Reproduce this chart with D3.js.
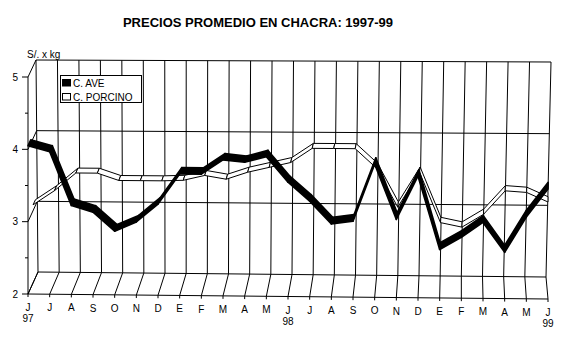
<!DOCTYPE html>
<html>
<head>
<meta charset="utf-8">
<script src="https://cdn.jsdelivr.net/npm/d3@7/dist/d3.min.js"></script>
<style>
  html, body { margin: 0; padding: 0; background: #fff; }
  svg { display: block; }
  text { font-family: Arial, "Liberation Sans", sans-serif; fill: #000; }
</style>
</head>
<body>
<svg id="chart" width="566" height="359"></svg>
<script>
// ---------- DATA ----------
const title = "PRECIOS PROMEDIO EN CHACRA: 1997-99";
const unitLabel = "S/. x kg";
const months = ["J","J","A","S","O","N","D","E","F","M","A","M","J","J","A","S","O","N","D","E","F","M","A","M","J"];
const yearLabels = [{ idx: 0, text: "97" }, { idx: 12, text: "98" }, { idx: 24, text: "99" }];
const seriesNames = ["C. AVE", "C. PORCINO"];
const aveValues = [4.05, 3.97, 3.23, 3.14, 2.88, 3.01, 3.26, 3.68, 3.68, 3.88, 3.85, 3.93,
                   3.58, 3.32, 3.01, 3.05, 3.84, 3.08, 3.68, 2.67, 2.84, 3.05, 2.64, 3.13, 3.52];
const porcinoValues = [3.08, 3.28, 3.53, 3.53, 3.43, 3.43, 3.43, 3.44, 3.51, 3.46, 3.56, 3.63,
                       3.70, 3.90, 3.90, 3.90, 3.63, 3.09, 3.58, 2.88, 2.82, 3.00, 3.33, 3.31, 3.18];
const yMajorTicks = [2, 3, 4, 5];
const yMinorTicks = [2.5, 3.5, 4.5];

// ---------- PROJECTION (slightly perspective 3D box) ----------
const svg = d3.select("#chart");
const n = months.length - 1;
const iFrac = d3.scaleLinear().domain([0, n]).range([0, 1]);
const vFrac = d3.scaleLinear().domain([2, 5]).range([0, 1]);
const xFront = d3.scaleLinear().domain([0, n]).range([28, 548]);
const yFrontLeft = d3.scaleLinear().domain([2, 5]).range([294, 77]);
const frontDrop = 5;
const xBackBottom = d3.scaleLinear().domain([0, n]).range([38, 546]);
const xBackTop = d3.scaleLinear().domain([0, n]).range([36, 551]);
const yBackLeft = d3.scaleLinear().domain([2, 5]).range([272, 60]);
const yBackRight = d3.scaleLinear().domain([2, 5]).range([277, 62]);

function P(i, v, z) {
  const t = iFrac(i), f = vFrac(v);
  const fx = xFront(i);
  const fy = yFrontLeft(v) + frontDrop * t;
  const bx = xBackBottom(i) + (xBackTop(i) - xBackBottom(i)) * f;
  const by = yBackLeft(v) + (yBackRight(v) - yBackLeft(v)) * t;
  return [fx + (bx - fx) * z, fy + (by - fy) * z];
}
const line = d3.line();

const grid = svg.append("g").attr("fill", "none").attr("stroke", "#000").attr("stroke-width", 1);

// back wall horizontal gridlines (3,4,5) and floor back edge (2)
yMajorTicks.forEach(v => {
  grid.append("path").attr("d", line([P(0, v, 1), P(n, v, 1)]));
});
// back wall vertical lines
d3.range(0, n + 1).forEach(i => {
  grid.append("path").attr("d", line([P(i, 2, 1), P(i, 5, 1)]));
});
// floor depth lines
d3.range(0, n + 1).forEach(i => {
  grid.append("path").attr("d", line([P(i, 2, 0), P(i, 2, 1)]));
});
// front floor edge
grid.append("path").attr("d", line([P(0, 2, 0), P(n, 2, 0)]));
// left wall depth lines
yMajorTicks.forEach(v => {
  grid.append("path").attr("d", line([P(0, v, 0), P(0, v, 1)]));
});
// front left value axis
grid.append("path").attr("d", line([P(0, 2, 0), P(0, 5, 0)]));
yMajorTicks.forEach(v => {
  const p = P(0, v, 0);
  grid.append("path").attr("d", line([[p[0] - 6, p[1]], p]));
});
yMinorTicks.forEach(v => {
  const p = P(0, v, 0);
  grid.append("path").attr("d", line([[p[0] - 3, p[1]], p]));
});
// category ticks
d3.range(0, n + 1).forEach(i => {
  const p = P(i, 2, 0);
  grid.append("path").attr("d", line([p, [p[0], p[1] + 3]]));
});

// ---------- RIBBONS ----------
function ribbon(values, z0, z1, fill, sw) {
  const g = svg.append("g");
  for (let i = 0; i < values.length - 1; i++) {
    const a = values[i], b = values[i + 1];
    const quad = [P(i, a, z0), P(i + 1, b, z0), P(i + 1, b, z1), P(i, a, z1)];
    g.append("path")
      .attr("d", line(quad) + "Z")
      .attr("fill", fill)
      .attr("stroke", "#000")
      .attr("stroke-width", sw)
      .attr("stroke-linejoin", "round");
  }
}
ribbon(porcinoValues, 0.55, 0.8, "#fff", 1);
ribbon(aveValues, 0.0, 0.32, "#000", 1.6);

// ---------- TEXT ----------
svg.append("text")
  .attr("x", 258).attr("y", 27)
  .attr("text-anchor", "middle")
  .attr("font-size", "13px").attr("font-weight", "bold")
  .text(title);

svg.append("text")
  .attr("x", 27).attr("y", 58)
  .attr("font-size", "10px")
  .text(unitLabel);

yMajorTicks.forEach(v => {
  const p = P(0, v, 0);
  svg.append("text")
    .attr("x", 18).attr("y", p[1] + 3.5)
    .attr("text-anchor", "end")
    .attr("font-size", "10px")
    .text(v);
});

months.forEach((m, i) => {
  const p = P(i, 2, 0);
  svg.append("text")
    .attr("x", p[0]).attr("y", p[1] + 17)
    .attr("text-anchor", "middle")
    .attr("font-size", "10px")
    .text(m);
});
yearLabels.forEach(d => {
  const p = P(d.idx, 2, 0);
  svg.append("text")
    .attr("x", p[0]).attr("y", p[1] + 28)
    .attr("text-anchor", "middle")
    .attr("font-size", "10px")
    .text(d.text);
});

// ---------- LEGEND ----------
const leg = svg.append("g");
leg.append("rect").attr("x", 60.5).attr("y", 75.5).attr("width", 81).attr("height", 27)
  .attr("fill", "#fff").attr("stroke", "#000");
const legFills = ["#000", "#fff"];
seriesNames.forEach((s, k) => {
  const y = 79.5 + k * 14;
  leg.append("rect").attr("x", 62.5).attr("y", y).attr("width", 8).attr("height", 6.5)
    .attr("fill", legFills[k]).attr("stroke", "#000");
  leg.append("text").attr("x", 73).attr("y", y + 7)
    .attr("font-size", "10px").text(s);
});
</script>
</body>
</html>
